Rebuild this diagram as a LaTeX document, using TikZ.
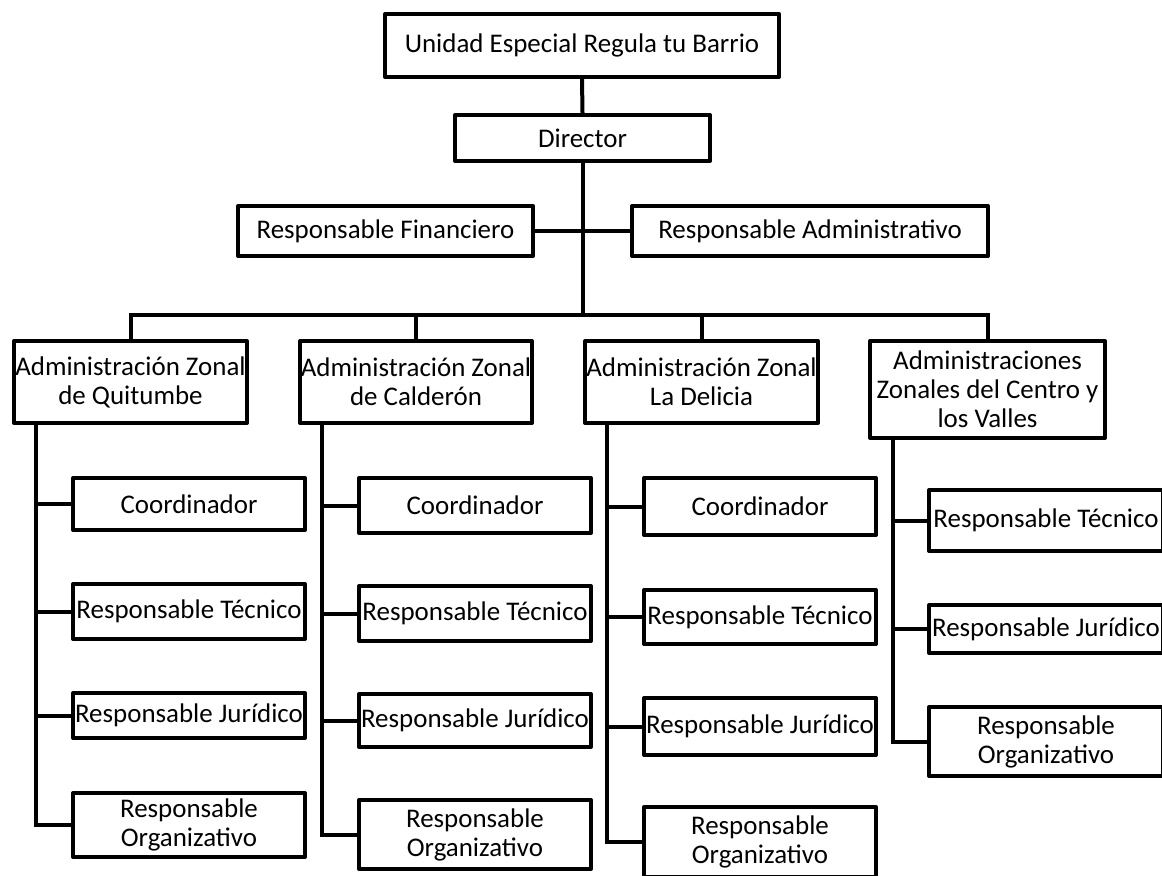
\documentclass[tikz,border=0pt]{standalone}
\usepackage{fontspec}
\setmainfont{Carlito}
\begin{document}
\begin{tikzpicture}[x=0.75pt,y=-0.75pt,
  box/.style={draw=black,line width=3pt,fill=white,inner sep=0pt,align=center,
    font=\fontsize{20.2}{21.8}\selectfont,line join=round},
  sz/.style 2 args={minimum width=#1*0.75pt,minimum height=#2*0.75pt},
  link/.style={draw=black,line width=3pt}]
\useasboundingbox (0,0) rectangle (1162,875);
\clip (0,0) rectangle (1162,875);
% top levels
\node[box,sz={394}{63}] (top) at (582,45.5) {Unidad Especial Regula tu Barrio};
\node[box,sz={255}{46}] (dir) at (582.5,138) {Director};
\node[box,sz={295}{50}] (fin) at (385.5,231) {Responsable Financiero};
\node[box,sz={356}{50}] (adm) at (810,231) {Responsable Administrativo};
\coordinate (bus) at (582.5,315);
% zones
\node[box,sz={233}{82}] (zq) at (130.5,382) {Administración Zonal\\de Quitumbe};
\node[box,sz={232}{82}] (zc) at (416,382) {Administración Zonal\\de Calderón};
\node[box,sz={233}{82}] (zd) at (701.5,382) {Administración Zonal\\La Delicia};
\node[box,sz={235}{97}] (zv) at (987.5,389.5) {Administraciones\\Zonales del Centro y\\los Valles};
% column 1
\node[box,sz={232}{52}] (c1) at (189,504) {Coordinador};
\node[box,sz={232}{55}] (t1) at (189,611.5) {Responsable Técnico};
\node[box,sz={232}{45}] (j1) at (189,715.5) {Responsable Jurídico};
\node[box,sz={232}{64}] (o1) at (189,825) {Responsable\\Organizativo};
% column 2
\node[box,sz={232}{55}] (c2) at (475,505.5) {Coordinador};
\node[box,sz={232}{55}] (t2) at (475,613.5) {Responsable Técnico};
\node[box,sz={232}{53}] (j2) at (475,720.5) {Responsable Jurídico};
\node[box,sz={232}{69}] (o2) at (475,834.5) {Responsable\\Organizativo};
% column 3
\node[box,sz={232}{57}] (c3) at (760,506.5) {Coordinador};
\node[box,sz={232}{54}] (t3) at (760,617) {Responsable Técnico};
\node[box,sz={232}{57}] (j3) at (760,726.5) {Responsable Jurídico};
\node[box,sz={232}{70}] (o3) at (760,842) {Responsable\\Organizativo};
% column 4
\node[box,sz={234}{61}] (t4) at (1046,520.5) {Responsable Técnico};
\node[box,sz={234}{48}] (j4) at (1046,629) {Responsable Jurídico};
\node[box,sz={234}{69}] (o4) at (1046,741.5) {Responsable\\Organizativo};
% trunk coordinates
\coordinate (k1) at (36,425);
\coordinate (k2) at (322,425);
\coordinate (k3) at (607,425);
\coordinate (k4) at (893,440);
% connectors top
\draw[link] (top.south) -- (dir.north);
\draw[link] (dir.south) -- (bus);
\draw[link] (fin.east) -- (adm.west);
\draw[link,line join=miter] (zq.north) |- (bus) -| (zv.north);
\draw[link] (zc.north) -- (zc.north |- bus);
\draw[link] (zd.north) -- (zd.north |- bus);
% column connectors
\draw[link,line join=miter] (k1) |- (o1.west);
\draw[link] (k1 |- c1.west) -- (c1.west);
\draw[link] (k1 |- t1.west) -- (t1.west);
\draw[link] (k1 |- j1.west) -- (j1.west);
\draw[link,line join=miter] (k2) |- (o2.west);
\draw[link] (k2 |- c2.west) -- (c2.west);
\draw[link] (k2 |- t2.west) -- (t2.west);
\draw[link] (k2 |- j2.west) -- (j2.west);
\draw[link,line join=miter] (k3) |- (o3.west);
\draw[link] (k3 |- c3.west) -- (c3.west);
\draw[link] (k3 |- t3.west) -- (t3.west);
\draw[link] (k3 |- j3.west) -- (j3.west);
\draw[link,line join=miter] (k4) |- (o4.west);
\draw[link] (k4 |- t4.west) -- (t4.west);
\draw[link] (k4 |- j4.west) -- (j4.west);
\end{tikzpicture}
\end{document}
